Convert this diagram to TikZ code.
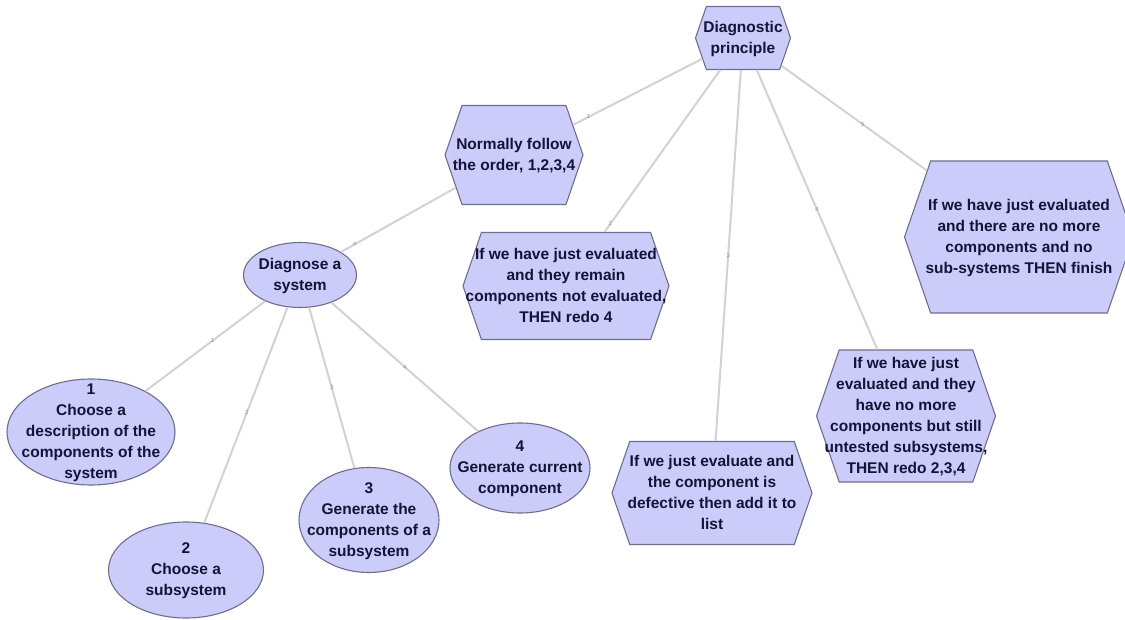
\documentclass[tikz,border=0pt]{standalone}
\usepackage{fontspec}
\setmainfont{Liberation Sans}
\usetikzlibrary{shapes.symbols,shapes.geometric}
\definecolor{nodefill}{RGB}{204,204,250}
\definecolor{nodeline}{RGB}{110,110,145}
\definecolor{txtcol}{RGB}{20,20,55}
\definecolor{edgecol}{RGB}{210,210,210}
\definecolor{lblcol}{RGB}{150,150,150}
\newcommand{\nodetxt}[1]{\smash{\raisebox{-4pt}{\makebox[0pt]{\begin{tabular}{@{}c@{}}#1\end{tabular}}}}}
\begin{document}
\begin{tikzpicture}[x=1pt,y=-1pt,
  base/.style={draw=nodeline, fill=nodefill, line width=1.1pt, inner sep=0pt, text=txtcol,
    font=\fontsize{15.5}{21}\selectfont\bfseries},
  hexa/.style={base, signal, signal to=west and east, signal pointer angle=142},
  oval/.style={base, ellipse},
  link/.style={draw=edgecol, line width=2pt},
  lbl/.style={text=lblcol, font=\fontsize{6}{6}\selectfont, inner sep=0.5pt}
]
\useasboundingbox (0,0) rectangle (1125,620);

\node[hexa, minimum width=95, minimum height=63] (root) at (743,38) {\nodetxt{Diagnostic\\principle}};
\node[hexa, minimum width=138, minimum height=99] (norm) at (514,155) {\nodetxt{Normally follow\\the order, 1,2,3,4}};
\node[hexa, minimum width=206, minimum height=107] (redo4) at (566,286) {\nodetxt{If we have just evaluated\\and they remain\\components not evaluated,\\THEN redo 4}};
\node[hexa, minimum width=200, minimum height=103] (defect) at (712,493) {\nodetxt{If we just evaluate and\\the component is\\defective then add it to\\list}};
\node[hexa, minimum width=179, minimum height=132] (redo234) at (906,416) {\nodetxt{If we have just\\evaluated and they\\have no more\\components but still\\untested subsystems,\\THEN redo 2,3,4}};
\node[hexa, minimum width=229, minimum height=152] (finish) at (1019,237) {\nodetxt{If we have just evaluated\\and there are no more\\components and no\\sub-systems THEN finish}};

\node[oval, minimum width=113, minimum height=65] (diag) at (300,275) {\nodetxt{Diagnose a\\system}};
\node[oval, minimum width=168, minimum height=106] (o1) at (91,432) {\nodetxt{1\\Choose a\\description of the\\components of the\\system}};
\node[oval, minimum width=155, minimum height=96] (o2) at (186,570) {\nodetxt{2\\Choose a\\subsystem}};
\node[oval, minimum width=140, minimum height=105] (o3) at (369,520) {\nodetxt{3\\Generate the\\components of a\\subsystem}};
\node[oval, minimum width=140, minimum height=90] (o4) at (520,468) {\nodetxt{4\\Generate current\\component}};

\draw[link] (root) -- node[lbl,pos=0.88]{1} (norm);
\draw[link] (root) -- node[lbl,pos=0.95]{2} (redo4);
\draw[link] (root) -- node[lbl,pos=0.5]{3} (defect);
\draw[link] (root) -- node[lbl,pos=0.5]{4} (redo234);
\draw[link] (root) -- node[lbl,pos=0.56]{5} (finish);
\draw[link] (norm) -- node[lbl,pos=0.88]{a} (diag);
\draw[link] (diag) -- node[lbl,pos=0.44]{1} (o1);
\draw[link] (diag) -- node[lbl,pos=0.49]{2} (o2);
\draw[link] (diag) -- node[lbl,pos=0.5]{3} (o3);
\draw[link] (diag) -- node[lbl,pos=0.5]{4} (o4);
\end{tikzpicture}
\end{document}
